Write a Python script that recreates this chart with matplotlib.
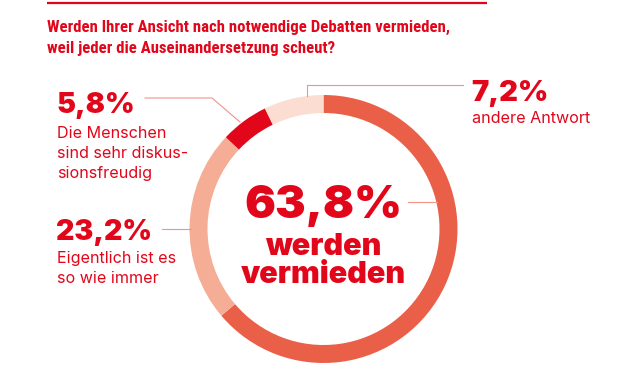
import matplotlib
matplotlib.use("Agg")
import matplotlib.pyplot as plt

# ---- data ----
categories = ["werden vermieden", "Eigentlich ist es so wie immer",
              "Die Menschen sind sehr diskussionsfreudig", "andere Antwort"]
values = [63.8, 23.2, 5.8, 7.2]
value_labels = ["63,8%", "23,2%", "5,8%", "7,2%"]
colors = ["#EA5F47", "#F5AE95", "#E2061B", "#FCDDD1"]
title_lines = ["Werden Ihrer Ansicht nach notwendige Debatten vermieden,",
               "weil jeder die Auseinandersetzung scheut?"]

RED = "#E2061B"
LINE = "#F0948A"
W, H = 630, 370

fig = plt.figure(figsize=(W / 100, H / 100), dpi=100, facecolor="white")

# donut axes
cx, cy, R = 323.5, 229, 134
ax = fig.add_axes([(cx - R) / W, (H - cy - R) / H, 2 * R / W, 2 * R / H])
ax.pie(values, colors=colors, startangle=90, counterclock=False,
       radius=1.0, wedgeprops=dict(width=18 / R, linewidth=0))
ax.set_xlim(-1, 1)
ax.set_ylim(-1, 1)
ax.set_aspect("equal")
ax.axis("off")

# overlay axes in pixel coordinates
t = fig.add_axes([0, 0, 1, 1], zorder=5)
t.set_xlim(0, W)
t.set_ylim(H, 0)
t.axis("off")
t.patch.set_alpha(0)

# top rule
t.plot([47, 487], [3, 3], color=RED, lw=1.6, solid_capstyle="butt")

# title
TITLE_FONT = ["Roboto Condensed", "Barlow Semi Condensed", "Archivo Narrow",
              "Liberation Sans Narrow", "DejaVu Sans"]
for i, line in enumerate(title_lines):
    t.text(47, 31.5 + i * 22, line, color=RED, fontsize=12.1,
           family=TITLE_FONT, fontweight="bold",
           va="baseline", ha="left")

BIG = dict(color=RED, family=["Inter", "DejaVu Sans"], fontweight="black",
           va="baseline", ha="left")
SMALL = dict(color=RED, family=["Inter", "DejaVu Sans"], fontweight="normal",
             va="baseline", ha="left", fontsize=11.6)

# 5,8%
t.text(56, 113, value_labels[2], fontsize=20.5, **BIG)
for i, s in enumerate(["Die Menschen", "sind sehr diskus-", "sionsfreudig"]):
    t.text(57, 138 + i * 20, s, **SMALL)
t.plot([145, 212, 240], [98, 98, 122], color=LINE, lw=0.8)

# 23,2%
t.text(56, 240, value_labels[1], fontsize=20.5, **BIG)
for i, s in enumerate(["Eigentlich ist es", "so wie immer"]):
    t.text(57, 263 + i * 20, s, **SMALL)
t.plot([162, 191], [229, 229], color=LINE, lw=0.8)

# 7,2%
t.text(471, 101, value_labels[3], fontsize=21, **BIG)
t.text(472, 123, "andere Antwort", **SMALL)
t.plot([463, 307, 307], [85, 85, 96], color=LINE, lw=0.8)

# center
t.text(cx, 218, value_labels[0], fontsize=33, **{**BIG, "ha": "center"})
t.text(cx, 255, "werden", fontsize=22, **{**BIG, "ha": "center"})
t.text(cx, 283, "vermieden", fontsize=22, **{**BIG, "ha": "center"})
t.plot([408, 437], [202, 202], color=LINE, lw=0.8)

fig.savefig("out.png", dpi=100, facecolor="white")
